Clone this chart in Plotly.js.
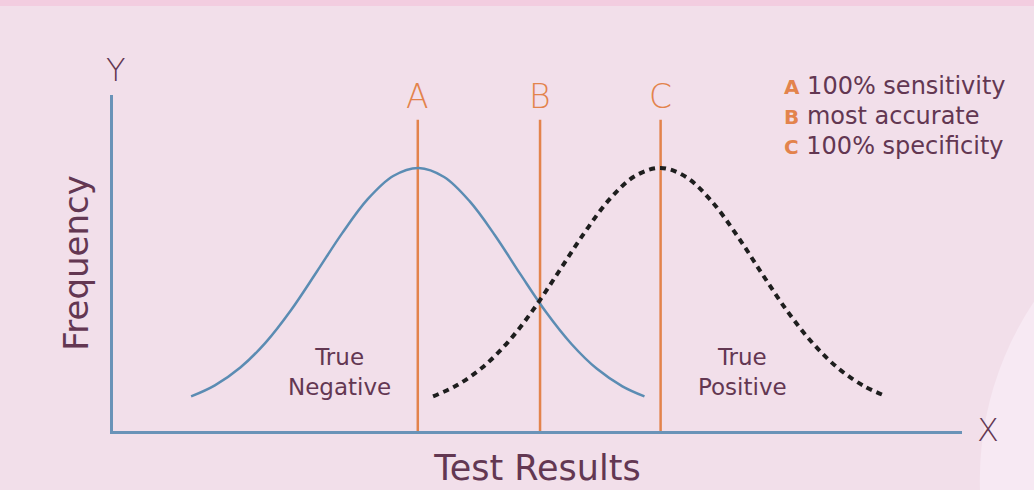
<!DOCTYPE html>
<html>
<head>
<meta charset="utf-8">
<script src="https://cdn.plot.ly/plotly-3.0.1.min.js"></script>
<style>html,body{margin:0;padding:0;background:#f2dfea;}</style>
</head>
<body>
<div id="chart" style="width:1034px;height:490px;"></div>
<script>
// True negative distribution (blue solid curve)
const negX = [9.2, 12, 15, 18, 21, 24, 27, 30, 33, 36, 39, 42, 45, 48, 51, 54, 57, 60, 62.6];
const negY = [10.3, 13.6, 18.9, 26.4, 36.1, 47.4, 58.9, 69.0, 75.9, 78.3, 75.6, 68.4, 58.2, 46.6, 35.4, 25.9, 18.5, 13.3, 10.3];
// True positive distribution (black dotted curve)
const posX = [37.7, 40.5, 43.5, 46.5, 49.5, 52.5, 55.5, 58.5, 61.5, 64.5, 67.5, 70.5, 73.5, 76.5, 79.5, 82.5, 85.5, 88.5, 91.1];
const posY = [10.3, 13.6, 18.9, 26.4, 36.1, 47.4, 58.9, 69.0, 75.9, 78.3, 75.6, 68.4, 58.2, 46.6, 35.4, 25.9, 18.5, 13.3, 10.3];
// Cut-off lines
const cutNames = ["A", "B", "C"];
const cutX = [35.9, 50.3, 64.5];
const cutTop = 92.6;
const legendText = ["100% sensitivity", "most accurate", "100% specificity"];

const orange = "#e3834c";
const textCol = "#633752";
const font = "DejaVu Sans, sans-serif";

const lx = [], ly = [];
cutX.forEach(v => { lx.push(v, v, null); ly.push(0, cutTop, null); });

const traces = [
  {x: lx, y: ly, mode: "lines", line: {color: orange, width: 2.5}, hoverinfo: "skip", showlegend: false},
  {x: negX, y: negY, mode: "lines", line: {color: "#5b8cb3", width: 2.5, shape: "spline"}, name: "True Negative", showlegend: false},
  {x: posX, y: posY, mode: "lines", line: {color: "#1e1e1e", width: 4, dash: "6px,5px", shape: "spline"}, name: "True Positive", showlegend: false}
];

const ann = [];
cutNames.forEach((n, i) => {
  ann.push({x: cutX[i], y: 99.7, xref: "x", yref: "y", text: n, showarrow: false,
    font: {family: font, size: 33, color: orange, weight: 300}, xanchor: "center", yanchor: "middle"});
});
const legY = [1.027, 0.9375, 0.848];
cutNames.forEach((n, i) => {
  ann.push({x: 0.788, y: legY[i], xref: "paper", yref: "paper", showarrow: false, xanchor: "left", yanchor: "middle",
    text: "<span style='color:" + orange + ";font-size:20px'><b>" + n + "</b></span> " + legendText[i],
    font: {family: font, size: 24, color: textCol}});
});
ann.push({x: 26.7, y: 17.5, xref: "x", yref: "y", text: "True<br>Negative", showarrow: false,
  font: {family: font, size: 23, color: textCol}, align: "center"});
ann.push({x: 74.1, y: 17.5, xref: "x", yref: "y", text: "True<br>Positive", showarrow: false,
  font: {family: font, size: 23, color: textCol}, align: "center"});
ann.push({x: 0.0035, y: 1.074, xref: "paper", yref: "paper", text: "Y", showarrow: false,
  xanchor: "center", yanchor: "middle",
  font: {family: font, size: 32, color: textCol, weight: 300}});
ann.push({x: 1.0306, y: 0.003, xref: "paper", yref: "paper", text: "X", showarrow: false,
  xanchor: "center", yanchor: "middle",
  font: {family: font, size: 32, color: textCol, weight: 300}});

const layout = {
  width: 1034, height: 490,
  margin: {l: 113, r: 72, t: 95, b: 59},
  paper_bgcolor: "#f2dfea", plot_bgcolor: "rgba(0,0,0,0)",
  showlegend: false,
  xaxis: {range: [0, 100], showgrid: false, zeroline: false, showticklabels: false, ticks: "",
    showline: true, linecolor: "#6a93b8", linewidth: 3, fixedrange: true,
    title: {text: "Test Results", font: {family: font, size: 35, color: textCol}, standoff: 23}},
  yaxis: {range: [0, 100], showgrid: false, zeroline: false, showticklabels: false, ticks: "",
    showline: true, linecolor: "#6a93b8", linewidth: 3, fixedrange: true,
    title: {text: "Frequency", font: {family: font, size: 34, color: textCol}, standoff: 12}},
  annotations: ann,
  shapes: [
    {type: "rect", xref: "paper", yref: "paper", x0: -0.2, x1: 1.2, y0: 1.265, y1: 1.3, fillcolor: "#f3cde0", line: {width: 0}, layer: "below"},
    {type: "circle", xref: "paper", yref: "paper", x0: 1.021, x1: 1.775, y0: -1.098, y1: 0.807, fillcolor: "#f7e9f3", line: {width: 0}, layer: "below"}
  ]
};

Plotly.newPlot("chart", traces, layout, {displayModeBar: false, staticPlot: true});
</script>
</body>
</html>
